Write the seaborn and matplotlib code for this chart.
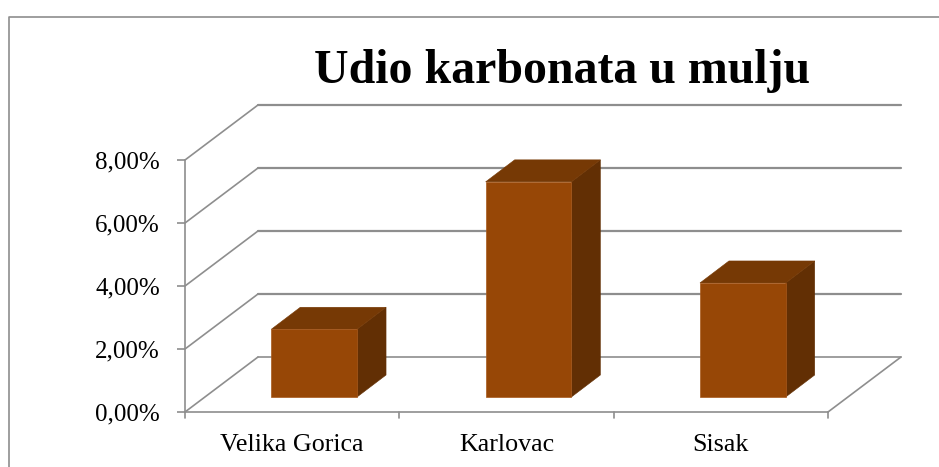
# -*- coding: utf-8 -*-
import numpy as np
import pandas as pd
import matplotlib
matplotlib.use("Agg")
import matplotlib.pyplot as plt
from matplotlib.lines import Line2D
from matplotlib.patches import Polygon
from matplotlib.transforms import IdentityTransform
import seaborn as sns

gradovi = ["Velika Gorica", "Karlovac", "Sisak"]
udio = [2.15, 6.83, 3.62]
y_ticks = [0, 2, 4, 6, 8]
y_labels = ["0,00%", "2,00%", "4,00%", "6,00%", "8,00%"]
naslov = "Udio karbonata u mulju"

GRAY = "#8e8e8e"
FRONT = "#974706"
TOP = "#763905"
SIDE = "#622f04"
# 3d look, all in pixels
WALL_DX, WALL_DY = 73, 55
BAR_DX, BAR_DY = 22, 15
DEPTH_DX, DEPTH_DY = 29, 22

sns.set_theme(style="white")
plt.rcParams["font.family"] = ["Liberation Serif", "DejaVu Serif"]

fig = plt.figure(figsize=(9.39, 4.67), dpi=100)
ax = fig.add_axes([185 / 939, (467 - 412) / 467, (828 - 185) / 939, 252 / 467])
df = pd.DataFrame({"grad": gradovi, "udio": udio})
sns.barplot(data=df, x="grad", y="udio", color=FRONT, saturation=1, width=0.4, ax=ax)
ax.set_xlim(-0.5, 2.5)
ax.set_ylim(0, 8)
ax.set_xlabel("")
ax.set_ylabel("")
ax.patch.set_alpha(0)
fig.patch.set_facecolor("white")

for s in ["top", "right"]:
    ax.spines[s].set_visible(False)
for s in ["left", "bottom"]:
    ax.spines[s].set_color(GRAY)
    ax.spines[s].set_linewidth(1.2)

ax.set_yticks(y_ticks)
ax.set_yticklabels(y_labels, fontsize=18, color="black")
ax.set_xticks([0, 1, 2])
ax.set_xticklabels(gradovi, fontsize=18.7, color="black")
ax.tick_params(axis="y", left=True, length=6, width=1.2, color=GRAY, pad=12)
# x ticks sit between the categories
ax.tick_params(axis="x", bottom=False, pad=10)
for xb in [-0.5, 0.5, 1.5, 2.5]:
    x0, y0 = ax.transData.transform((xb, 0))
    fig.add_artist(Line2D([x0, x0], [y0, y0 - 6], color=GRAY, lw=1.2,
                          transform=IdentityTransform()))


def px_line(xs, ys, lw=1.2, z=1):
    fig.add_artist(Line2D(xs, ys, color=GRAY, lw=lw, zorder=z,
                          transform=IdentityTransform()))


# back wall and floor lines, drawn behind the bars
x_left, _ = ax.transData.transform((-0.5, 0))
x_right, _ = ax.transData.transform((2.5, 0))
for t in y_ticks:
    _, yp = ax.transData.transform((-0.5, t))
    px_line([x_left, x_left + WALL_DX], [yp, yp + WALL_DY])
    px_line([x_left + WALL_DX, x_right + WALL_DX], [yp + WALL_DY, yp + WALL_DY],
            lw=1.2 if t == 0 else 1.6)
    if t == 0:
        px_line([x_right, x_right + WALL_DX], [yp, yp + WALL_DY])

# bars: shift the front faces, then add top and side
for bar in ax.patches:
    x = bar.get_x()
    w = bar.get_width()
    h = bar.get_height()
    (xa, ya), (xb, yb) = ax.transData.transform([(x, 0), (x + w, h)])
    xa, xb = xa + BAR_DX, xb + BAR_DX
    ya, yb = ya + BAR_DY, yb + BAR_DY
    bar.set_visible(False)
    front = Polygon([(xa, ya), (xb, ya), (xb, yb), (xa, yb)], facecolor=FRONT,
                    edgecolor="#a8591c", lw=0.5, transform=IdentityTransform(), zorder=5)
    top = Polygon([(xa, yb), (xb, yb), (xb + DEPTH_DX, yb + DEPTH_DY), (xa + DEPTH_DX, yb + DEPTH_DY)],
                  facecolor=TOP, edgecolor=TOP, lw=0.4, transform=IdentityTransform(), zorder=4)
    side = Polygon([(xb, ya), (xb + DEPTH_DX, ya + DEPTH_DY), (xb + DEPTH_DX, yb + DEPTH_DY), (xb, yb)],
                   facecolor=SIDE, edgecolor=SIDE, lw=0.4, transform=IdentityTransform(), zorder=4)
    for p in (side, top, front):
        fig.add_artist(p)

# chart border: left and top only, the rest is cut off in the picture
px_line([8.5, 8.5, 939], [0, 467 - 16.5, 467 - 16.5], lw=1.2)

fig.text(562 / 939, 1 - 71 / 467, naslov, ha="center", va="center",
         fontsize=34.5, fontweight="bold", color="black")

fig.savefig("out.png", dpi=100)
